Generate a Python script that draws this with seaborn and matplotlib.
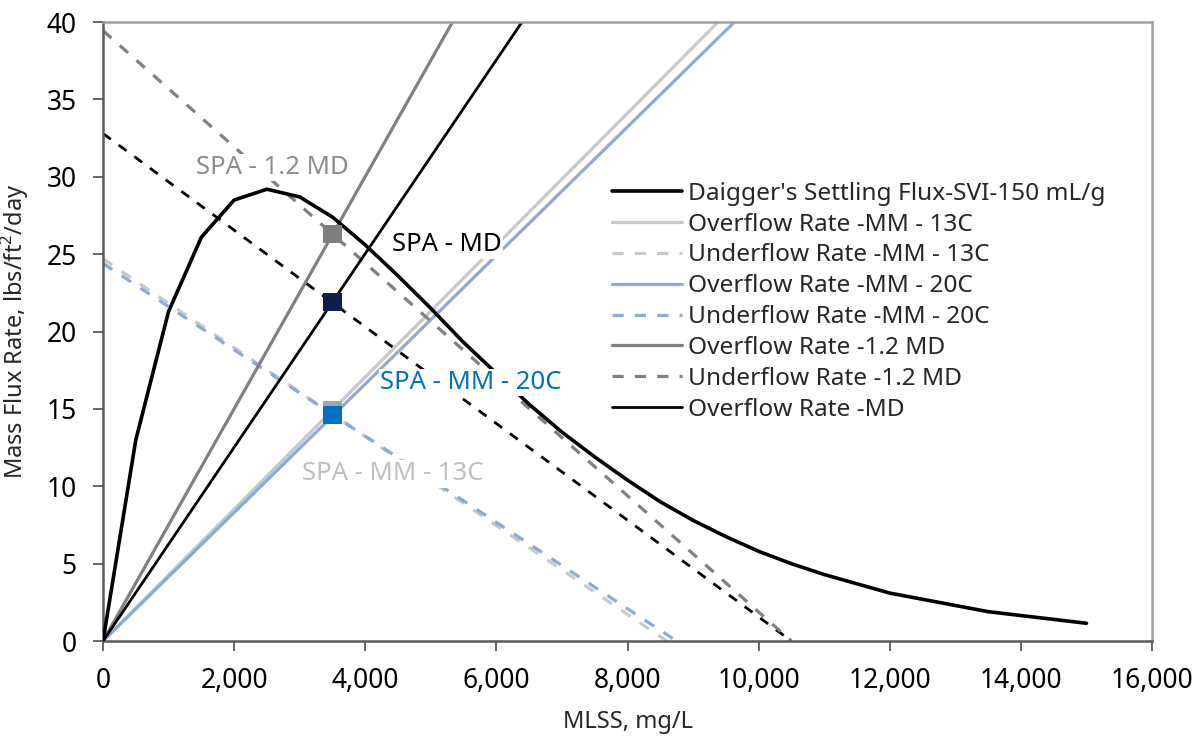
import matplotlib
matplotlib.use("Agg")
import matplotlib.pyplot as plt
import seaborn as sns
import pandas as pd

sns.set_theme(style="white")
plt.rcParams['font.family'] = ['Noto Sans', 'DejaVu Sans']
plt.rcParams['mathtext.fontset'] = 'custom'
plt.rcParams['mathtext.rm'] = 'Noto Sans'

# Daigger's settling flux curve
flux_mlss = [0, 500, 1000, 1500, 2000, 2500, 3000, 3500, 4000, 4500, 5000, 5500,
             6000, 6500, 7000, 7500, 8000, 8500, 9000, 9500, 10000, 10500, 11000,
             11500, 12000, 12500, 13000, 13500, 14000, 14500, 15000]
flux_vals = [0, 13.0, 21.3, 26.1, 28.5, 29.2, 28.7, 27.4, 25.6, 23.6, 21.5, 19.3,
             17.3, 15.3, 13.5, 11.9, 10.4, 9.0, 7.8, 6.75, 5.8, 5.0, 4.3,
             3.7, 3.1, 2.7, 2.3, 1.9, 1.65, 1.4, 1.15]

# Overflow lines (MLSS, flux)
of_mm13_x = [0, 9380]; of_mm13_y = [0, 40]
of_mm20_x = [0, 9630]; of_mm20_y = [0, 40]
of_12md_x = [0, 5330]; of_12md_y = [0, 40]
of_md_x = [0, 6390]; of_md_y = [0, 40]

# Underflow lines
uf_mm13_x = [0, 8600]; uf_mm13_y = [24.7, 0]
uf_mm20_x = [0, 8750]; uf_mm20_y = [24.4, 0]
uf_12md_x = [0, 10500]; uf_12md_y = [39.45, 0]
uf_md_x = [0, 10500]; uf_md_y = [32.8, 0]

# State points
spa_x = [3500, 3500, 3500, 3500]
spa_y = [14.9, 14.6, 26.3, 21.9]
spa_colors = ["#a6a6a6", "#0070c0", "#7f7f7f", "#0d1f4f"]

labels = ["SPA - 1.2 MD", "SPA - MD", "SPA - MM - 20C", "SPA - MM - 13C"]
label_x = [2580, 5250, 5610, 4420]
label_y = [30.6, 25.6, 16.7, 10.8]
label_colors = ["#8c8c8c", "#000000", "#0070c0", "#bfbfbf"]

fig = plt.figure(figsize=(12.02, 7.36), dpi=100)
ax = fig.add_axes([0.0857, 0.129, 0.8727, 0.841])

LW = 2.3
C13 = "#c8c8c8"
C20 = "#8eaad2"
CG = "#808080"

def line(x, y, color, label, dashes=None, lw=LW, z=2):
    df = pd.DataFrame({"x": x, "y": y})
    sns.lineplot(data=df, x="x", y="y", ax=ax, color=color, lw=lw,
                 zorder=z, legend=False)
    ln = ax.lines[-1]
    if dashes is not None:
        ln.set_dashes(dashes)
    ln.set_label(label if label else "_nolegend_")
    return ln

line(uf_md_x, uf_md_y, "black", None, dashes=(3.5, 3.5), lw=2.0)
h_flux = line(flux_mlss, flux_vals, "black", "Daigger's Settling Flux-SVI-150 mL/g", lw=2.6, z=3)
h_of13 = line(of_mm13_x, of_mm13_y, C13, "Overflow Rate -MM - 13C")
h_uf13 = line(uf_mm13_x, uf_mm13_y, C13, "Underflow Rate -MM - 13C", dashes=(3.5, 3.5))
h_of20 = line(of_mm20_x, of_mm20_y, C20, "Overflow Rate -MM - 20C")
h_uf20 = line(uf_mm20_x, uf_mm20_y, C20, "Underflow Rate -MM - 20C", dashes=(3.5, 3.5))
h_of12 = line(of_12md_x, of_12md_y, CG, "Overflow Rate -1.2 MD")
h_uf12 = line(uf_12md_x, uf_12md_y, CG, "Underflow Rate -1.2 MD", dashes=(3.5, 3.5))
h_ofmd = line(of_md_x, of_md_y, "black", "Overflow Rate -MD", lw=2.0)

for i in range(len(spa_x)):
    sns.scatterplot(x=[spa_x[i]], y=[spa_y[i]], ax=ax, marker="s", s=170,
                    color=spa_colors[i], edgecolor="none", zorder=5, legend=False)

for t, x, y, c in zip(labels, label_x, label_y, label_colors):
    ax.text(x, y, t, color=c, fontsize=18.5, ha="center", va="center", zorder=6,
            bbox=dict(facecolor="white", edgecolor="none", pad=1.0))

ax.set_xlim(0, 16000)
ax.set_ylim(0, 40)
ax.set_xticks(range(0, 16001, 2000))
ax.set_xticklabels([f"{v:,}" for v in range(0, 16001, 2000)])
ax.set_yticks(range(0, 41, 5))
ax.tick_params(axis="both", labelsize=19, labelcolor="#000000", direction="out",
               length=7, width=1.3, left=True, bottom=True, color="#595959")
ax.tick_params(axis="x", pad=12)
ax.tick_params(axis="y", pad=12)
for s in ["left", "bottom"]:
    ax.spines[s].set_color("#595959")
    ax.spines[s].set_linewidth(1.8)
for s in ["top", "right"]:
    ax.spines[s].set_color("#a0a0a0")
    ax.spines[s].set_linewidth(1.8)

ax.set_xlabel("MLSS, mg/L", fontsize=17)
ax.set_ylabel("Mass Flux Rate, lbs/ft$^2$/day", fontsize=17)
ax.xaxis.set_label_coords(0.5, -0.111)
ax.yaxis.set_label_coords(-0.0685, 0.5)

leg = ax.legend(handles=[h_flux, h_of13, h_uf13, h_of20, h_uf20, h_of12, h_uf12, h_ofmd],
                loc="upper left", bbox_to_anchor=(0.483, 0.746), frameon=True,
                fontsize=17.6, handlelength=2.85, handletextpad=0.25, labelspacing=0.28,
                borderpad=0.1, borderaxespad=0)
leg.get_frame().set_facecolor("white")
leg.get_frame().set_edgecolor("none")
leg.get_frame().set_alpha(1)

fig.savefig("out.png", dpi=100)
